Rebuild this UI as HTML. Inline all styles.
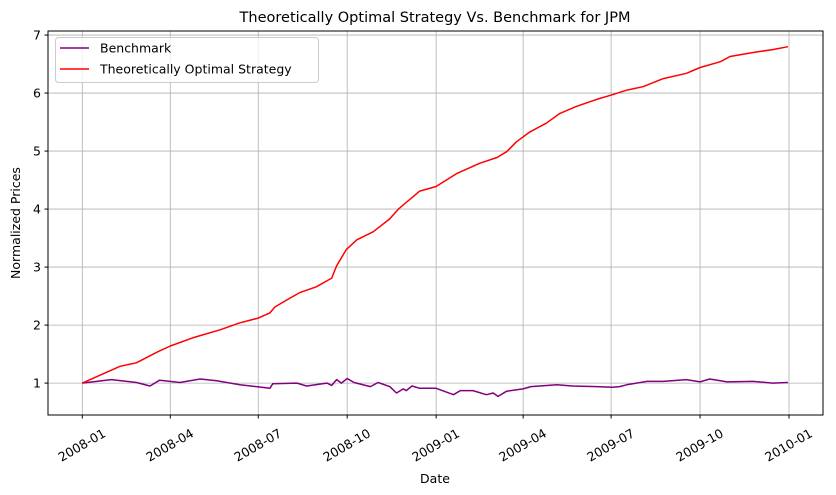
<!DOCTYPE html>
<html><head><meta charset="utf-8"><style>
body{margin:0;background:#fff;}
svg{display:block;font-family:"DejaVu Sans","Liberation Sans",sans-serif;}
</style></head><body>
<svg id="chart" width="836" height="495" viewBox="0 0 836 495">
<text x="435" y="22" text-anchor="middle" font-size="14.5">Theoretically Optimal Strategy Vs. Benchmark for JPM</text>
<g id="grid"></g>
<g id="series"></g>
<rect x="48" y="31" width="775" height="384" fill="none" stroke="#000" stroke-width="1"/>
<g id="axes"></g>
<text x="435" y="483" text-anchor="middle" font-size="12.5">Date</text>
<text x="0" y="0" transform="translate(20,223) rotate(-90)" text-anchor="middle" font-size="12.5">Normalized Prices</text>
<g>
<rect x="55.5" y="37.5" width="263" height="45" rx="3" fill="#fff" fill-opacity="0.8" stroke="#ccc"/>
<line x1="60" y1="48" x2="89" y2="48" stroke="purple" stroke-width="1.5"/>
<text x="100" y="52.5" font-size="12.5">Benchmark</text>
<line x1="60" y1="69" x2="89" y2="69" stroke="red" stroke-width="1.5"/>
<text x="100" y="73.5" font-size="12.5">Theoretically Optimal Strategy</text>
</g>
</svg>
<script>
const yTicks = [1,2,3,4,5,6,7];
const xTickLabels = ["2008-01","2008-04","2008-07","2008-10","2009-01","2009-04","2009-07","2009-10","2010-01"];
const stratDays = [0,39,56,78,91,114,143,163,182,194,199,212,225,242,258,263,273,284,301,318,327,349,366,387,411,429,439,449,463,480,494,511,532,548,563,580,601,625,639,660,670,694,714,730];
const stratVals = [1.0,1.29,1.35,1.54,1.64,1.78,1.92,2.04,2.12,2.21,2.31,2.44,2.56,2.66,2.81,3.02,3.30,3.47,3.61,3.83,4.00,4.31,4.39,4.61,4.79,4.89,4.99,5.16,5.33,5.48,5.65,5.77,5.89,5.97,6.05,6.11,6.25,6.34,6.44,6.54,6.63,6.70,6.75,6.80];
const benchDays = [0,30,56,70,80,101,122,139,163,180,194,197,222,232,253,258,263,268,274,281,298,306,318,325,332,335,341,349,366,384,391,404,418,425,430,439,456,464,491,507,532,548,556,563,584,601,625,639,649,667,694,714,730];
const benchVals = [1.0,1.06,1.01,0.95,1.05,1.01,1.07,1.04,0.97,0.94,0.91,0.99,1.0,0.95,1.0,0.96,1.06,1.0,1.08,1.01,0.94,1.01,0.94,0.83,0.90,0.87,0.95,0.91,0.91,0.80,0.87,0.87,0.80,0.83,0.77,0.86,0.90,0.94,0.97,0.95,0.94,0.93,0.94,0.97,1.03,1.03,1.06,1.02,1.07,1.02,1.03,1.0,1.01];

const NS="http://www.w3.org/2000/svg";
const L=48,R=823,T=31,B=415;
const yMin=0.45,yMax=7.07;
const t0=Date.UTC(2008,0,1), t1=Date.UTC(2010,0,1);
const x0=82.3,x1=789;
function yS(v){return B-(v-yMin)/(yMax-yMin)*(B-T);}
function xDay(d){return x0+d/731*(x1-x0);}
function xDate(s){const p=s.split('-');const t=Date.UTC(+p[0],+p[1]-1,1);return x0+(t-t0)/(t1-t0)*(x1-x0);}
function mk(tag,attrs,parent){const e=document.createElementNS(NS,tag);for(const k in attrs)e.setAttribute(k,attrs[k]);parent.appendChild(e);return e;}
const grid=document.getElementById('grid'),axes=document.getElementById('axes'),series=document.getElementById('series');
yTicks.forEach(v=>{
  const y=yS(v);
  const g=mk('line',{x1:L,x2:R,y1:y,y2:y,stroke:'#b0b0b0','stroke-width':0.8},grid);
  
  
  const t=mk('line',{x1:L-3.5,x2:L,y1:y,y2:y,stroke:'#000'},axes);
  
  
  const tx=mk('text',{x:L-7,y:y+4.5,'text-anchor':'end','font-size':12.5},axes);
  tx.textContent=v;
  
  
});
xTickLabels.forEach(s=>{
  const x=xDate(s);
  const g=mk('line',{x1:x,x2:x,y1:T,y2:B,stroke:'#b0b0b0','stroke-width':0.8},grid);
  
  
  const t=mk('line',{x1:x,x2:x,y1:B,y2:B+3.5,stroke:'#000'},axes);
  
  
  const tx=mk('text',{x:0,y:4.5,'text-anchor':'middle','font-size':12.5,transform:`translate(${x-0.5},${B+30}) rotate(-30)`},axes);
  tx.textContent=s;
  
  
});
function path(days,vals,color,name){
  const d=days.map((dd,i)=>(i?'L':'M')+xDay(dd).toFixed(1)+','+yS(vals[i]).toFixed(1)).join('');
  const p=mk('path',{d:d,fill:'none',stroke:color,'stroke-width':1.5,'stroke-linejoin':'round'},series);
  
  
}
path(benchDays,benchVals,'purple','benchmark-line');
path(stratDays,stratVals,'red','strategy-line');
</script>
</body></html>
